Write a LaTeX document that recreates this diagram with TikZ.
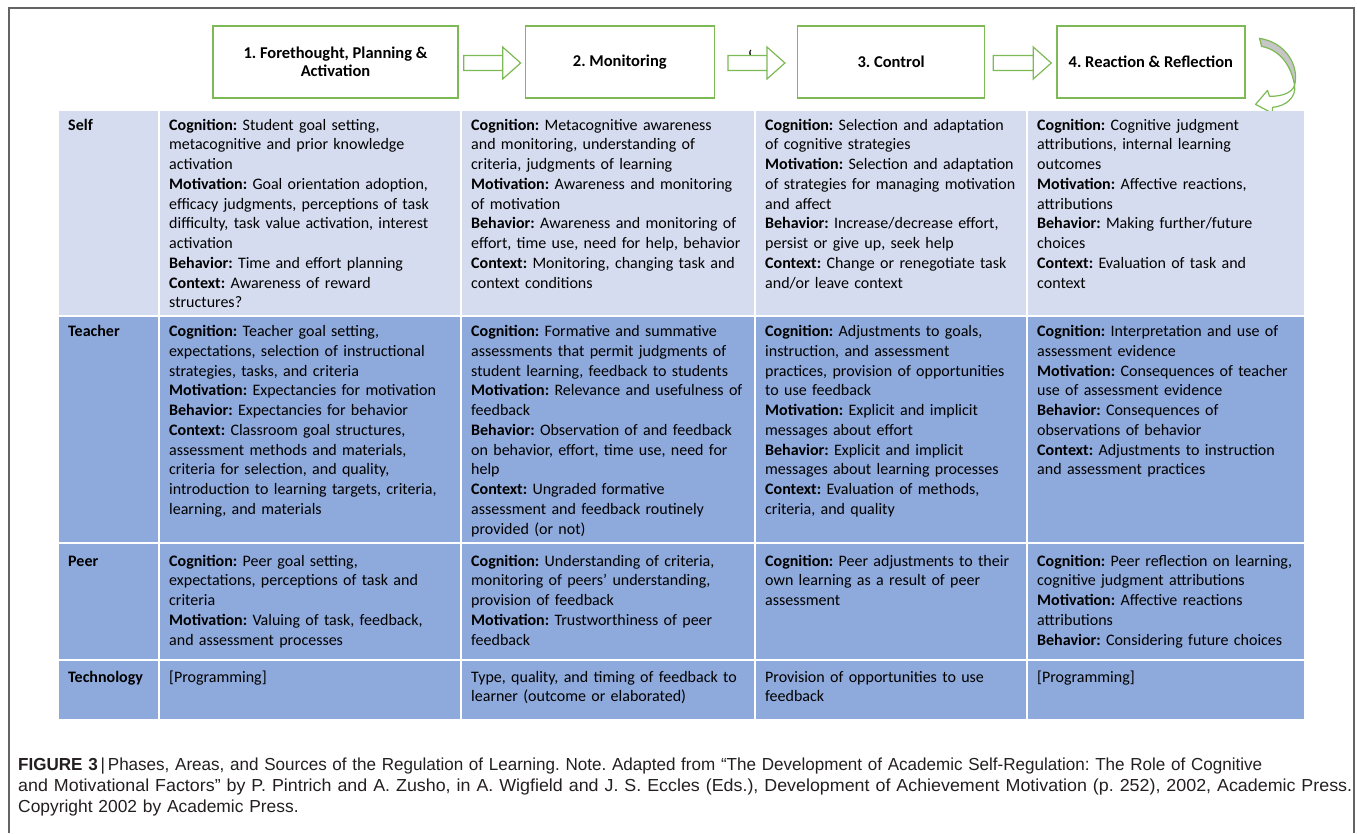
\documentclass[tikz,border=0pt]{standalone}
\usepackage{graphicx}
\usepackage{fontspec}
\setmainfont{Carlito}
\newfontfamily\capfont{Liberation Sans}
\usetikzlibrary{calc,positioning}

\definecolor{selfbg}{RGB}{214,220,240}
\definecolor{rowbg}{RGB}{142,169,219}
\definecolor{phasegreen}{RGB}{125,185,85}
\definecolor{framegray}{RGB}{100,100,100}
\definecolor{captext}{RGB}{35,31,32}

\newcommand{\lbl}[1]{\textbf{#1:}}
% hollow block arrow between two phase boxes
\newcommand{\blockarr}[4]{%
  \draw[blockarrow] let \p1=(#1.east), \p2=(#2.west) in
    (\x1+#3pt,\y1-8.5pt) -- (\x2-#4pt-18pt,\y1-8.5pt) -- (\x2-#4pt-18pt,\y1+15pt)
    -- (\x2-#4pt,\y1-1pt) -- (\x2-#4pt-18pt,\y1-17pt) -- (\x2-#4pt-18pt,\y1+6.5pt)
    -- (\x1+#3pt,\y1+6.5pt) -- cycle;}

\tikzset{
  phase/.style={draw=phasegreen, line width=1.3pt, fill=white, minimum height=72pt,
    align=center, inner sep=0pt, font=\bfseries\fontsize{16.5}{18.5}\selectfont},
  celltext/.style={anchor=base west, inner sep=0pt, text width=300pt, align=left,
    font=\fontsize{16}{19.75}\selectfont},
  rowname/.style={anchor=base west, inner sep=0pt, font=\bfseries\fontsize{16}{19.75}\selectfont},
  blockarrow/.style={draw=phasegreen, line width=1.2pt, fill=white},
  gridline/.style={white, line width=2.5pt},
}

\begin{document}
\frenchspacing
\begin{tikzpicture}[x=1pt,y=-1pt]
  \useasboundingbox (0,0) rectangle (1357,833);
  \draw[framegray, line width=1.2pt] (9,833) -- (9,8) -- (1354,8) -- (1354,833);

  % phases
  \node[phase, minimum width=245pt] (ph1) at (335.5,62) {1. Forethought, Planning \&\\Activation};
  \node[phase, minimum width=189pt, right=66pt of ph1] (ph2) {2. Monitoring};
  \node[phase, minimum width=187pt, right=82pt of ph2] (ph3) {3. Control};
  \node[phase, minimum width=188pt, right=71pt of ph3] (ph4) {4. Reaction \& Reflection};
  \blockarr{ph1}{ph2}{5}{4}
  \blockarr{ph2}{ph3}{13}{12}
  \blockarr{ph3}{ph4}{8}{5}
  \node[inner sep=0pt, font=\fontsize{20}{20}\selectfont] (tick) at (750,57) {`};

  % curved arrow back from phase 4
  \begin{scope}[shift={(ph4.north east)}]
    \filldraw[fill=gray!45, draw=phasegreen, line width=1.2pt]
      (14,13) .. controls (40,17) and (54,40) .. (49,60)
      .. controls (46,42) and (36,25) .. (16,21) -- cycle;
    \filldraw[fill=white, draw=phasegreen, line width=1.2pt, line join=round]
      (49,60) .. controls (46,68) and (36,71) .. (24,71) -- (22,65) -- (10,79)
      -- (27,88) -- (27,82) .. controls (40,81) and (51,72) .. (49,60) -- cycle;
  \end{scope}

  % table
  \fill[selfbg] (59,111) rectangle (1304,316);
  \fill[rowbg] (59,316) rectangle (1304,719);
  \foreach \x in {159,461,755,1027}
    \draw[gridline] (\x,111) -- (\x,719);
  \foreach \y in {316,543,660}
    \draw[gridline] (59,\y) -- (1304,\y);

  % Self
  \node[rowname] (self) at (68,130) {Self};
  \node[celltext] (self1) at (169,130) {\lbl{Cognition} Student goal setting,\\
    metacognitive and prior knowledge\\activation\\
    \lbl{Motivation} Goal orientation adoption,\\efficacy judgments, perceptions of task\\
    difficulty, task value activation, interest\\activation\\
    \lbl{Behavior} Time and effort planning\\
    \lbl{Context} Awareness of reward\\structures?};
  \node[celltext] (self2) at (471,130) {\lbl{Cognition} Metacognitive awareness\\
    and monitoring, understanding of\\criteria, judgments of learning\\
    \lbl{Motivation} Awareness and monitoring\\of motivation\\
    \lbl{Behavior} Awareness and monitoring of\\effort, time use, need for help, behavior\\
    \lbl{Context} Monitoring, changing task and\\context conditions};
  \node[celltext] (self3) at (765,130) {\lbl{Cognition} Selection and adaptation\\
    of cognitive strategies\\
    \lbl{Motivation} Selection and adaptation\\of strategies for managing motivation\\and affect\\
    \lbl{Behavior} Increase/decrease effort,\\persist or give up, seek help\\
    \lbl{Context} Change or renegotiate task\\and/or leave context};
  \node[celltext] (self4) at (1037,130) {\lbl{Cognition} Cognitive judgment\\
    attributions, internal learning\\outcomes\\
    \lbl{Motivation} Affective reactions,\\attributions\\
    \lbl{Behavior} Making further/future\\choices\\
    \lbl{Context} Evaluation of task and\\context};

  % Teacher
  \node[rowname] (teach) at (68,336.5) {Teacher};
  \node[celltext] (teach1) at (169,336.5) {\lbl{Cognition} Teacher goal setting,\\
    expectations, selection of instructional\\strategies, tasks, and criteria\\
    \lbl{Motivation} Expectancies for motivation\\
    \lbl{Behavior} Expectancies for behavior\\
    \lbl{Context} Classroom goal structures,\\assessment methods and materials,\\
    criteria for selection, and quality,\\introduction to learning targets, criteria,\\
    learning, and materials};
  \node[celltext] (teach2) at (471,336.5) {\lbl{Cognition} Formative and summative\\
    assessments that permit judgments of\\student learning, feedback to students\\
    \lbl{Motivation} Relevance and usefulness of\\feedback\\
    \lbl{Behavior} Observation of and feedback\\on behavior, effort, time use, need for\\help\\
    \lbl{Context} Ungraded formative\\assessment and feedback routinely\\provided (or not)};
  \node[celltext] (teach3) at (765,336.5) {\lbl{Cognition} Adjustments to goals,\\
    instruction, and assessment\\practices, provision of opportunities\\to use feedback\\
    \lbl{Motivation} Explicit and implicit\\messages about effort\\
    \lbl{Behavior} Explicit and implicit\\messages about learning processes\\
    \lbl{Context} Evaluation of methods,\\criteria, and quality};
  \node[celltext] (teach4) at (1037,336.5) {\lbl{Cognition} Interpretation and use of\\
    assessment evidence\\
    \lbl{Motivation} Consequences of teacher\\use of assessment evidence\\
    \lbl{Behavior} Consequences of\\observations of behavior\\
    \lbl{Context} Adjustments to instruction\\and assessment practices};

  % Peer
  \node[rowname] (peer) at (68,566) {Peer};
  \node[celltext] (peer1) at (169,566) {\lbl{Cognition} Peer goal setting,\\
    expectations, perceptions of task and\\criteria\\
    \lbl{Motivation} Valuing of task, feedback,\\and assessment processes};
  \node[celltext] (peer2) at (471,566) {\lbl{Cognition} Understanding of criteria,\\
    monitoring of peers’ understanding,\\provision of feedback\\
    \lbl{Motivation} Trustworthiness of peer\\feedback};
  \node[celltext] (peer3) at (765,566) {\lbl{Cognition} Peer adjustments to their\\
    own learning as a result of peer\\assessment};
  \node[celltext] (peer4) at (1037,566) {\lbl{Cognition} Peer reflection on learning,\\
    cognitive judgment attributions\\
    \lbl{Motivation} Affective reactions\\attributions\\
    \lbl{Behavior} Considering future choices};

  % Technology
  \node[rowname] (tech) at (68,682) {Technology};
  \node[celltext] (tech1) at (169,682) {[Programming]};
  \node[celltext] (tech2) at (471,682) {Type, quality, and timing of feedback to\\
    learner (outcome or elaborated)};
  \node[celltext] (tech3) at (765,682) {Provision of opportunities to use\\feedback};
  \node[celltext] (tech4) at (1037,682) {[Programming]};

  % caption
  \node[anchor=base west, inner sep=0pt, text width=1340pt, align=left, text=captext,
    font=\capfont\fontsize{17.4}{21}\selectfont] (caption) at (18,770)
    {\resizebox{1244pt}{\height}{\textbf{FIGURE 3}\,|\,Phases, Areas, and Sources of the Regulation of Learning. Note. Adapted from “The Development of Academic Self-Regulation: The Role of Cognitive}\\
    \resizebox{1334pt}{\height}{and Motivational Factors” by P. Pintrich and A. Zusho, in A. Wigfield and J. S. Eccles (Eds.), Development of Achievement Motivation (p. 252), 2002, Academic Press.}\\
    Copyright 2002 by Academic Press.};
\end{tikzpicture}
\end{document}
